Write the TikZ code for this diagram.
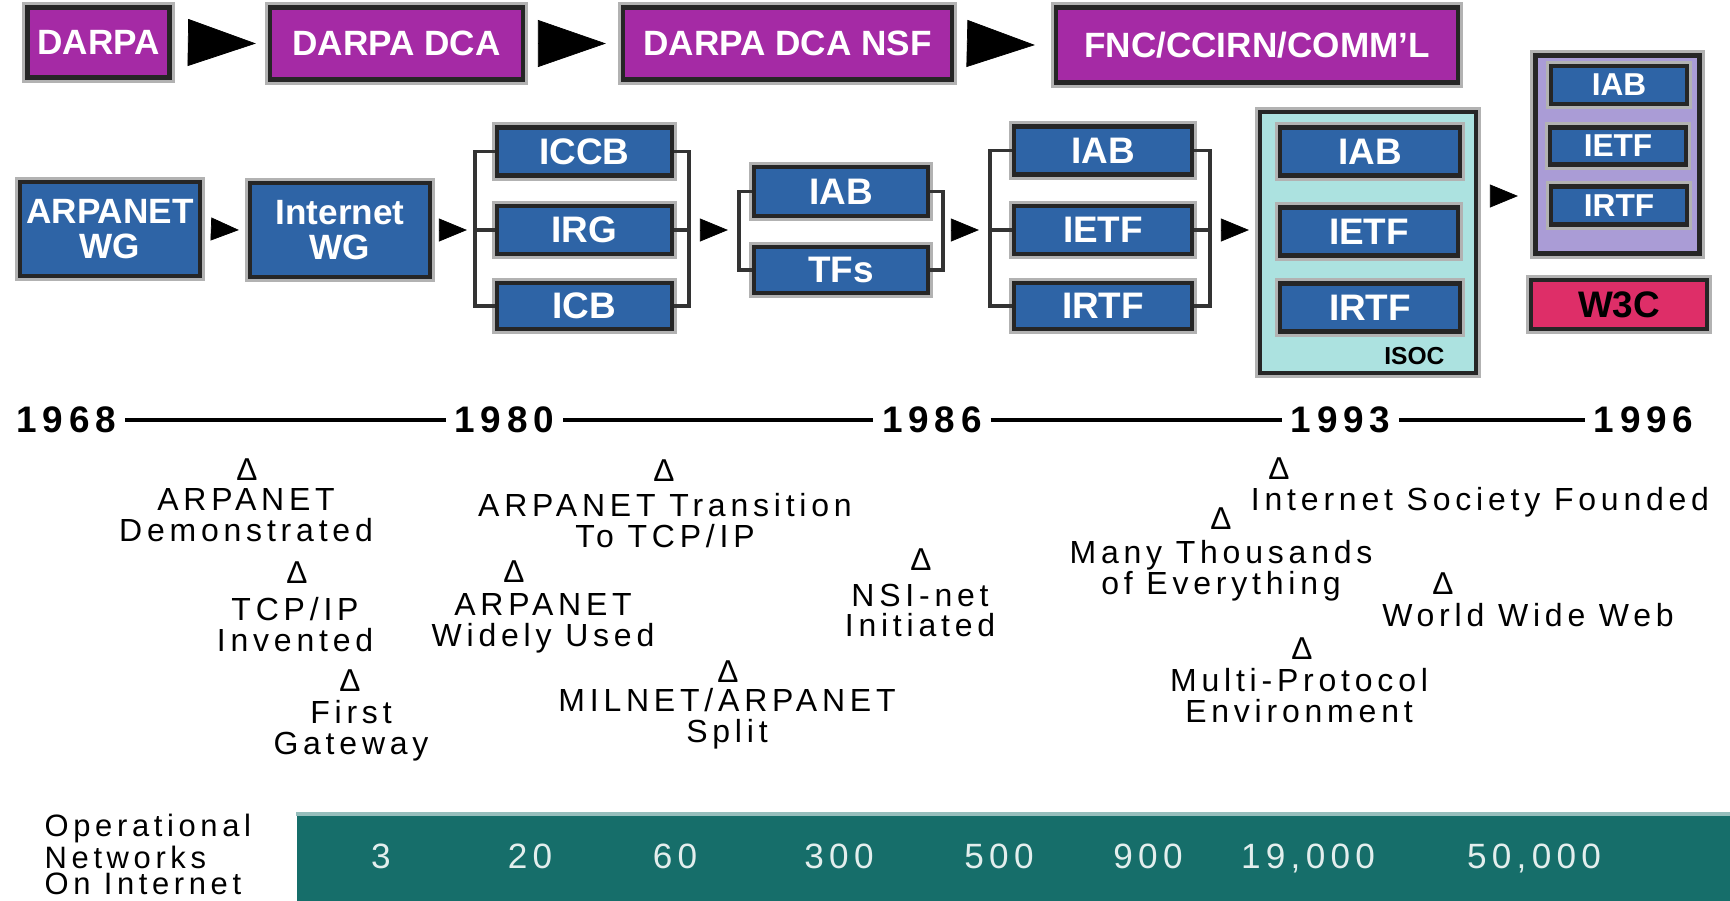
\documentclass[tikz,border=0pt]{standalone}
\usepackage{fontspec}
\setmainfont{Liberation Sans}
\newfontfamily\evfont[LetterSpace=15]{Liberation Sans}
\newfontfamily\yearfont[LetterSpace=16]{Liberation Sans}
\usepackage{tikz}
\usetikzlibrary{arrows.meta,positioning}
\definecolor{darpapurple}{RGB}{165,42,165}
\definecolor{wgblue}{RGB}{46,100,166}
\definecolor{isoccyan}{RGB}{172,226,224}
\definecolor{lav96}{RGB}{170,156,214}
\definecolor{w3cred}{RGB}{222,46,104}
\definecolor{netteal}{RGB}{22,110,106}

\begin{document}
\begin{tikzpicture}[org box/.style={rectangle,draw=black!85,line width=1.2pt,preaction={draw=black!30,line width=3pt},inner sep=0pt,text=white},
  purple node/.style={org box,fill=darpapurple,font=\fontsize{10}{12}\selectfont\bfseries},
  blue node/.style={org box,fill=wgblue,minimum width=1.76cm,minimum height=0.48cm,font=\fontsize{10.5}{10}\selectfont\bfseries},
  small node/.style={org box,fill=wgblue,minimum width=1.36cm,minimum height=0.38cm,font=\fontsize{9}{9}\selectfont\bfseries},
  big tip/.style={-{Triangle[length=6.8mm,width=4.7mm]},line width=0.2pt},
  small tip/.style={-{Triangle[length=2.8mm,width=2.3mm]},line width=0.2pt},
  bracket line/.style={draw=black!80,line width=1pt},
  year node/.style={inner sep=0.8mm,font=\yearfont\fontsize{10.5}{12}\selectfont\bfseries},
  year line/.style={line width=1.2pt},
  mark node/.style={inner sep=0pt,font=\evfont\fontsize{9}{9}\selectfont},
  event node/.style={inner sep=0pt,anchor=north,align=center,font=\evfont\fontsize{9.1}{8.8}\selectfont},
  net count/.style={inner sep=0pt,anchor=base,text=white!88!netteal,font=\evfont\fontsize{10}{12}\selectfont}]
    \useasboundingbox (0,0) rectangle (17.3,-9);

    \node[purple node,minimum width=1.42cm,minimum height=0.70cm] (darpa) at (0.985,-0.425) {DARPA};
    \node[purple node,minimum width=2.53cm,minimum height=0.72cm] (dca) at (3.965,-0.435) {DARPA DCA};
    \node[purple node,minimum width=3.29cm,minimum height=0.72cm] (nsf) at (7.875,-0.435) {DARPA DCA NSF};
    \node[purple node,minimum width=4.02cm,minimum height=0.75cm] (fnc) at (12.57,-0.45) {FNC/CCIRN/COMM'L};
    \draw[big tip] ([xshift=1.65mm]darpa.east) -- ([xshift=-1.2mm]dca.west);
    \draw[big tip] ([xshift=1.3mm]dca.east) -- ([xshift=-1.5mm]nsf.west);
    \draw[big tip] ([xshift=1.4mm]nsf.east) -- ([xshift=-1.9mm]fnc.west);

    \node[blue node,minimum width=1.80cm,minimum height=0.94cm,align=center,font=\fontsize{10}{10}\selectfont\bfseries] (awg) at (1.10,-2.29) {ARPANET\\WG};
    \node[blue node,minimum width=1.80cm,minimum height=0.94cm,align=center,font=\fontsize{10}{10}\selectfont\bfseries] (iwg) at (3.40,-2.30) {Internet\\WG};
    \draw[small tip] ([xshift=0.9mm]awg.east) -- ([xshift=-0.9mm]iwg.west);

    \node[blue node,minimum width=1.75cm] (iccb) at (5.845,-1.515) {ICCB};
    \node[blue node,minimum width=1.75cm] (irg) at (5.845,-2.30) {IRG};
    \node[blue node,minimum width=1.75cm,minimum height=0.46cm] (icb) at (5.845,-3.06) {ICB};
    \draw[bracket line] (iccb.west) -- ++(-0.2,0) |- (icb.west);
    \draw[bracket line] (irg.west) -- ++(-0.2,0) coordinate (g1in);
    \draw[bracket line] (iccb.east) -- ++(0.15,0) |- (icb.east);
    \draw[bracket line] (irg.east) -- ++(0.15,0) coordinate (g1out);
    \draw[small tip] ([xshift=0.7mm]iwg.east) -- ([xshift=-0.8mm]g1in);

    \node[blue node,minimum width=1.74cm,minimum height=0.49cm] (iab) at (8.41,-1.915) {IAB};
    \node[blue node,minimum width=1.74cm,minimum height=0.46cm] (tfs) at (8.41,-2.70) {TFs};
    \draw[bracket line] (iab.west) -- ++(-0.13,0) |- (tfs.west);
    \draw[bracket line] (iab.east) -- ++(0.13,0) |- (tfs.east);
    \coordinate (g2in) at ([xshift=-1.3mm]iab.west |- irg.west);
    \coordinate (g2out) at ([xshift=1.3mm]iab.east |- irg.east);
    \draw[small tip] ([xshift=1.1mm]g1out) -- ([xshift=-1.1mm]g2in);

    \node[blue node,minimum width=1.78cm] (iab2) at (11.03,-1.505) {IAB};
    \node[blue node,minimum width=1.78cm] (ietf2) at (11.03,-2.30) {IETF};
    \node[blue node,minimum width=1.78cm,minimum height=0.46cm] (irtf2) at (11.03,-3.06) {IRTF};
    \draw[bracket line] (iab2.west) -- ++(-0.22,0) |- (irtf2.west);
    \draw[bracket line] (ietf2.west) -- ++(-0.22,0) coordinate (g3in);
    \draw[bracket line] (iab2.east) -- ++(0.16,0) |- (irtf2.east);
    \draw[bracket line] (ietf2.east) -- ++(0.16,0) coordinate (g3out);
    \draw[small tip] ([xshift=1.2mm]g2out) -- ([xshift=-1.1mm]g3in);

    \node[org box,fill=isoccyan,minimum width=2.16cm,minimum height=2.61cm] (isoc) at (13.68,-2.425) {};
    \node[blue node,minimum width=1.80cm] (iab3) at (13.70,-1.515) {IAB};
    \node[blue node,minimum width=1.78cm] (ietf3) at (13.69,-2.315) {IETF};
    \node[blue node,minimum width=1.80cm] (irtf3) at (13.70,-3.075) {IRTF};
    \node[anchor=south east,inner sep=0pt,font=\fontsize{7}{8}\selectfont\bfseries] (isoclabel) at ([xshift=-3.3mm,yshift=1mm]isoc.south east) {ISOC};
    \coordinate (isocin) at (g3out -| isoc.west);
    \draw[small tip] ([xshift=1.1mm]g3out) -- ([xshift=-0.9mm]isocin);

    \node[org box,fill=lav96,minimum width=1.64cm,minimum height=1.98cm] (lav) at (16.175,-1.545) {};
    \node[small node] (iab4) at (16.19,-0.85) {IAB};
    \node[small node,minimum height=0.37cm] (ietf4) at (16.18,-1.46) {IETF};
    \node[small node] (irtf4) at (16.19,-2.055) {IRTF};
    \coordinate (lavin) at ([yshift=-4.15mm]lav.west);
    \draw[small tip] ([xshift=1.2mm,yshift=4.65mm]isoc.east) -- ([xshift=-1.55mm]lavin);
    \node[org box,fill=w3cred,text=black,minimum width=1.76cm,minimum height=0.49cm,font=\fontsize{10.5}{10}\selectfont\bfseries] (w3c) at (16.19,-3.045) {W3C};

    \node[year node] (y68) at (0.665,-4.20) {1968};
    \node[year node] (y80) at (5.045,-4.20) {1980};
    \node[year node] (y86) at (9.32,-4.20) {1986};
    \node[year node] (y93) at (13.405,-4.20) {1993};
    \node[year node] (y96) at (16.435,-4.20) {1996};
    \draw[year line] (y68) -- (y80);
    \draw[year line] (y80) -- (y86);
    \draw[year line] (y86) -- (y93);
    \draw[year line] (y93) -- (y96);

    \node[mark node] (m1) at (2.47,-4.70) {Δ};
    \node[event node] (e1) at (2.46,-4.88) {ARPANET\\Demonstrated};
    \node[mark node] (m2) at (2.97,-5.73) {Δ};
    \node[event node] (e2) at (2.95,-5.97) {TCP/IP\\Invented};
    \node[mark node] (m3) at (3.50,-6.81) {Δ};
    \node[event node] (e3) at (3.51,-7.00) {First\\Gateway};
    \node[mark node] (m4) at (6.64,-4.71) {Δ};
    \node[event node] (e4) at (6.65,-4.93) {ARPANET Transition\\To TCP/IP};
    \node[mark node] (m5) at (5.14,-5.715) {Δ};
    \node[event node] (e5) at (5.43,-5.93) {ARPANET\\Widely Used};
    \node[mark node] (m6) at (7.28,-6.72) {Δ};
    \node[event node] (e6) at (7.27,-6.88) {MILNET/ARPANET\\Split};
    \node[mark node] (m7) at (9.21,-5.595) {Δ};
    \node[event node] (e7) at (9.20,-5.83) {NSI-net\\Initiated};
    \node[mark node] (m8) at (12.79,-4.69) {Δ};
    \node[event node] (e8) at (14.80,-4.87) {Internet Society Founded};
    \node[mark node] (m9) at (12.21,-5.19) {Δ};
    \node[event node] (e9) at (12.21,-5.40) {Many Thousands\\of Everything};
    \node[mark node] (m10) at (14.43,-5.835) {Δ};
    \node[event node] (e10) at (15.28,-6.03) {World Wide Web};
    \node[mark node] (m11) at (13.02,-6.485) {Δ};
    \node[event node] (e11) at (12.99,-6.68) {Multi-Protocol\\Environment};

    \node[anchor=north west,align=left,inner sep=0pt,font=\evfont\fontsize{8.8}{7.3}\selectfont] (netlabel) at (0.44,-8.13) {Operational\\Networks\\On Internet};
    \node[fill=netteal,inner sep=0pt,anchor=north west,minimum width=14.34cm,minimum height=0.88cm] (netbar) at (2.96,-8.12) {};
    \draw[netteal!45!white,line width=1pt] ([yshift=-0.5pt]netbar.north west) -- ([yshift=-0.5pt]netbar.north east);
    \foreach \x/\n [count=\i] in {3.81/3,5.30/20,6.75/60,8.39/300,9.99/500,11.48/900,13.08/{19,000},15.34/{50,000}}
      \node[net count] (net\i) at (\x,-8.68) {\n};
  \end{tikzpicture}
\end{document}
